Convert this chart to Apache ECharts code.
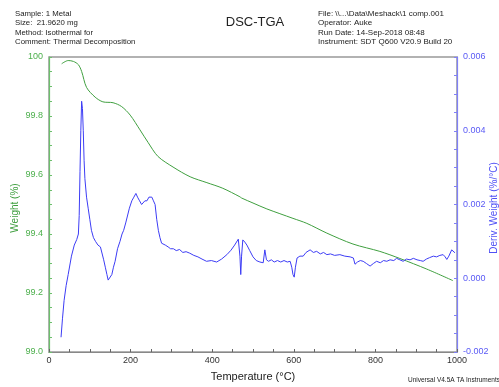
<!DOCTYPE html>
<html>
<head>
<meta charset="utf-8">
<script src="https://cdn.jsdelivr.net/npm/echarts@6/dist/echarts.min.js"></script>
<style>
  html, body { margin: 0; padding: 0; background: #fff; }
  #chart { width: 499px; height: 387px; }
</style>
</head>
<body>
<div id="chart"></div>
<script>
// weight curve (°C, %)
var tempW = [31, 47, 60, 72, 80, 92, 113, 132, 157, 178, 199, 223, 243, 267, 304, 346, 387, 426, 468, 472, 500, 534, 598, 632, 681, 745, 811, 860, 926, 990];
var weight = [99.977, 99.988, 99.985, 99.974, 99.951, 99.897, 99.864, 99.848, 99.845, 99.832, 99.803, 99.753, 99.710, 99.663, 99.627, 99.594, 99.574, 99.555, 99.526, 99.522, 99.505, 99.485, 99.453, 99.436, 99.403, 99.366, 99.341, 99.317, 99.281, 99.242];

// derivative weight curve (°C, %/°C)
var tempD = [29.5, 33, 37, 42, 47, 55, 62, 68, 72, 74, 76, 78, 80, 82, 84, 86, 88, 92, 96, 100,
  104, 109, 114, 120, 126, 130, 134, 138, 142, 145, 149, 154, 158, 162, 168, 174, 179, 183, 188, 192,
  197, 203, 208, 213, 217, 222, 227, 231, 235, 240, 245, 249, 252, 256, 260, 264, 268, 272, 276, 285,
  292, 298, 305, 312, 320, 328, 336, 345, 355, 365, 375, 386, 398, 411, 423, 436, 446, 455, 464, 468,
  470, 472, 475, 480, 485, 492, 500, 508, 517, 525, 529, 533, 538, 545, 552, 560, 568, 576, 584, 591,
  595, 598, 601, 604, 608, 615, 623, 630, 640, 648, 656, 665, 673, 681, 690, 700, 713, 725, 738, 746,
  750, 756, 763, 770, 778, 787, 795, 803, 812, 820, 828, 836, 845, 852, 860, 868, 876, 885, 893, 902,
  910, 917, 925, 933, 942, 950, 958, 966, 971, 975, 980, 987, 991, 995];
var deriv = [-0.0016, -0.0011, -0.0006, -0.0002, 0.0001, 0.0006, 0.0009, 0.00105, 0.0012, 0.0017, 0.0029, 0.0040, 0.0048, 0.0046, 0.0040, 0.0032, 0.0027, 0.0022, 0.0019, 0.0016,
  0.0013, 0.0011, 0.0010, 0.0009, 0.00085, 0.0008, 0.0005, 0.0003, 0.0001, -0.00005, 0.0000, 0.0001, 0.0003, 0.00046, 0.0008, 0.0010, 0.0012, 0.0013, 0.0015, 0.0015,
  0.0019, 0.0021, 0.0022, 0.0023, 0.0022, 0.0021, 0.0020, 0.00195, 0.0021, 0.0021, 0.0022, 0.00215, 0.0022, 0.0021, 0.0020, 0.0016, 0.0013, 0.0011, 0.00095, 0.0009,
  0.00085, 0.0008, 0.0008, 0.00075, 0.00078, 0.0007, 0.00072, 0.00068, 0.00062, 0.00058, 0.00052, 0.00046, 0.00048, 0.00044, 0.00052, 0.00064, 0.00076, 0.0009, 0.00106, 0.0006,
  0.0001, 0.0006, 0.00104, 0.00098, 0.0009, 0.00075, 0.00058, 0.00048, 0.00044, 0.00042, 0.00077, 0.0005, 0.00046, 0.0005, 0.00044, 0.00048, 0.00044, 0.00048, 0.00044, 0.00046,
  0.0003, 0.0001, 0.00003, 0.0003, 0.00055, 0.0006, 0.0006, 0.0007, 0.00077, 0.0007, 0.00073, 0.00066, 0.0007, 0.00064, 0.00066, 0.00062, 0.00064, 0.0006, 0.00058, 0.00055,
  0.00038, 0.00044, 0.00048, 0.00046, 0.0004, 0.00033, 0.0004, 0.00046, 0.00042, 0.00048, 0.00046, 0.0005, 0.00048, 0.00054, 0.0005, 0.00046, 0.00052, 0.0005, 0.00054, 0.0005,
  0.00048, 0.00046, 0.00052, 0.00056, 0.0006, 0.00058, 0.00062, 0.00064, 0.00058, 0.00051, 0.0006, 0.00077, 0.00074, 0.00069];

var headerLeft = ['Sample: 1 Metal', 'Size:  21.9620 mg', 'Method: Isothermal for', 'Comment: Thermal Decomposition'];
var headerRight = ['File: \\\\...\\Data\\Meshack\\1 comp.001', 'Operator: Auke', 'Run Date: 14-Sep-2018 08:48', 'Instrument: SDT Q600 V20.9 Build 20'];

var green = '#3f9f3f';
var blue = '#3c3cf5';
var font = 'Liberation Sans, Arial, sans-serif';

function pairs(xs, ys) {
  return xs.map(function (x, i) { return [x, ys[i]]; });
}

var chart = echarts.init(document.getElementById('chart'));
var option = {
  animation: false,
  textStyle: { fontFamily: font },
  title: {
    text: 'DSC-TGA',
    left: 250, top: 11, textAlign: 'center',
    textStyle: { fontSize: 13, fontWeight: 'normal', color: '#222', fontFamily: font }
  },
  graphic: [
    { type: 'text', left: 15, top: 9, style: { text: headerLeft.join('\n'), font: '7.8px ' + font, lineHeight: 9.5, fill: '#222' } },
    { type: 'text', left: 318, top: 9, style: { text: headerRight.join('\n'), font: '8px ' + font, lineHeight: 9.5, fill: '#222' } },
    { type: 'text', left: 408, top: 377, style: { text: 'Universal V4.5A TA Instruments', font: '6.5px ' + font, fill: '#222' } },
    // axis names placed by hand so the right one can run off the edge as in the original
    { type: 'text', x: 15, y: 208, rotation: Math.PI / 2,
      style: { text: 'Weight (%)', font: '10px ' + font, fill: green, align: 'center', verticalAlign: 'middle' } },
    { type: 'text', x: 494, y: 208, rotation: Math.PI / 2,
      style: { text: 'Deriv. Weight (%/°C)', font: '10px ' + font, fill: '#5050f5', align: 'center', verticalAlign: 'middle' } }
  ],
  grid: {
    left: 49, right: 42, top: 57, bottom: 27,
    show: true, borderColor: '#999', borderWidth: 1.5
  },
  xAxis: {
    type: 'value', min: 0, max: 1000, interval: 200,
    name: 'Temperature (°C)', nameLocation: 'middle', nameGap: 19,
    nameTextStyle: { fontSize: 11, color: '#222' },
    axisLine: { onZero: false, lineStyle: { color: '#888', width: 1 } },
    axisTick: { show: true, inside: true, length: 3, lineStyle: { color: '#666' } },
    minorTick: { show: true, splitNumber: 4, length: 3, lineStyle: { color: '#666' } },
    axisLabel: { fontSize: 9, color: '#333', margin: 4, formatter: function (v) { return String(v); } },
    splitLine: { show: false }
  },
  yAxis: [
    {
      type: 'value', min: 99.0, max: 100, interval: 0.2, position: 'left',
      axisLine: { show: true, lineStyle: { color: '#6cbf6c', width: 1.2 } },
      axisTick: { show: true, inside: true, length: 3, lineStyle: { color: '#6cbf6c' } },
      minorTick: { show: true, splitNumber: 4, length: 3, lineStyle: { color: '#6cbf6c' } },
      axisLabel: {
        fontSize: 9, color: '#4caf4c', margin: 6,
        formatter: function (v) { return Math.abs(v - 100) < 1e-9 ? '100' : v.toFixed(1); }
      },
      splitLine: { show: false }
    },
    {
      type: 'value', min: -0.002, max: 0.006, interval: 0.002, position: 'right',
      axisLine: { show: true, lineStyle: { color: '#8080f8', width: 1.2 } },
      axisTick: { show: true, inside: true, length: 3, lineStyle: { color: '#8080f8' } },
      minorTick: { show: true, splitNumber: 4, length: 3, lineStyle: { color: '#8080f8' } },
      axisLabel: {
        fontSize: 9, color: '#5a5af5', margin: 6,
        formatter: function (v) { return v.toFixed(3); }
      },
      splitLine: { show: false }
    }
  ],
  series: [
    {
      type: 'line', yAxisIndex: 0, data: pairs(tempW, weight),
      showSymbol: false, smooth: 0.3,
      lineStyle: { color: green, width: 1 }
    },
    {
      type: 'line', yAxisIndex: 1, data: pairs(tempD, deriv),
      showSymbol: false,
      lineStyle: { color: blue, width: 1 }
    }
  ]
};
chart.setOption(option);
</script>
</body>
</html>
